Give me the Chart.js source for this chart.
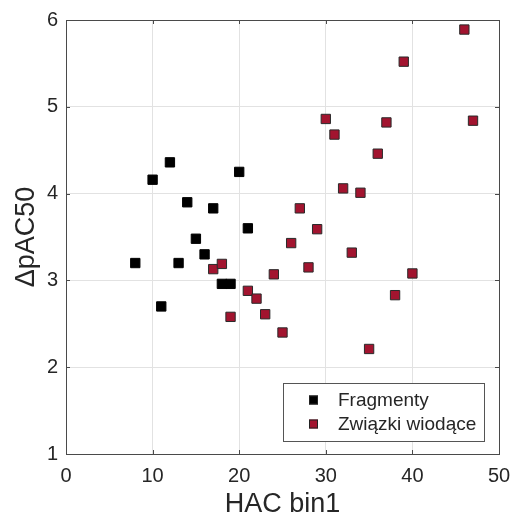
<!DOCTYPE html>
<html>
<head>
<meta charset="utf-8">
<script src="https://cdn.jsdelivr.net/npm/chart.js@4"></script>
<style>
  html, body { margin: 0; padding: 0; background: #fff; }
  #wrap { width: 513px; height: 523px; }
</style>
</head>
<body>
<div id="wrap"><canvas id="scatterChart" width="513" height="523"></canvas></div>
<script>
const seriesNames = ['Fragmenty', 'Związki wiodące'];

const fragX = [8, 10, 11, 12, 13, 14, 15, 16, 17, 18, 19, 20, 21];
const fragY = [3.20, 4.16, 2.70, 4.36, 3.20, 3.90, 3.48, 3.30, 3.83, 2.96, 2.96, 4.25, 3.60];

const leadX = [17, 18, 19, 21, 22, 23, 24, 25, 26, 27, 28, 29, 30, 31, 32, 33, 34, 35, 36, 37, 38, 39, 40, 46, 47];
const leadY = [3.13, 3.19, 2.58, 2.88, 2.79, 2.61, 3.07, 2.40, 3.43, 3.83, 3.15, 3.59, 4.86, 4.68, 4.06, 3.32, 4.01, 2.21, 4.46, 4.82, 2.83, 5.52, 3.08, 5.89, 4.84];

const xTicks = [0, 10, 20, 30, 40, 50];
const yTicks = [1, 2, 3, 4, 5, 6];

const fontName = "'Liberation Sans', Arial, sans-serif";
const axisColor = '#4a4a4a';

function toPoints(xs, ys) {
    return xs.map((x, i) => ({ x: x, y: ys[i] }));
}

// box round the plot, inward tick marks and the legend inside the axes
const boxPlugin = {
    id: 'boxPlugin',
    afterDraw(chart) {
        const ctx = chart.ctx;
        const a = chart.chartArea;
        const xs = chart.scales.x, ys = chart.scales.y;
        ctx.save();
        ctx.strokeStyle = axisColor;
        ctx.lineWidth = 1;
        ctx.beginPath();
        xTicks.forEach(v => {
            const px = Math.round(xs.getPixelForValue(v)) + 0.5;
            ctx.moveTo(px, a.bottom); ctx.lineTo(px, a.bottom - 4);
            ctx.moveTo(px, a.top); ctx.lineTo(px, a.top + 4);
        });
        yTicks.forEach(v => {
            const py = Math.round(ys.getPixelForValue(v)) + 0.5;
            ctx.moveTo(a.left, py); ctx.lineTo(a.left + 4, py);
            ctx.moveTo(a.right, py); ctx.lineTo(a.right - 4, py);
        });
        ctx.stroke();
        ctx.strokeRect(Math.round(a.left) + 0.5, Math.round(a.top) + 0.5,
                       Math.round(a.right - a.left), Math.round(a.bottom - a.top));

        // legend
        const lw = 201, lh = 58;
        const lx = a.right - 15 - lw, ly = a.bottom - 13 - lh;
        ctx.fillStyle = '#fff';
        ctx.fillRect(lx, ly, lw, lh);
        ctx.strokeStyle = '#555';
        ctx.strokeRect(Math.round(lx) + 0.5, Math.round(ly) + 0.5, lw, lh);
        ctx.font = '19px ' + fontName;
        ctx.textBaseline = 'middle';
        chart.data.datasets.forEach((ds, i) => {
            const cy = ly + 17 + i * 24;
            ctx.fillStyle = ds.backgroundColor;
            ctx.fillRect(lx + 26, cy - 4.5, 9, 9);
            ctx.strokeStyle = '#222';
            ctx.strokeRect(lx + 26.5, cy - 4, 8, 8);
            ctx.fillStyle = '#262626';
            ctx.fillText(ds.label, lx + 55, cy + 1);
        });
        ctx.restore();
    }
};

const chartConfig = {
    type: 'scatter',
    data: {
        datasets: [
            {
                label: seriesNames[0],
                data: toPoints(fragX, fragY),
                backgroundColor: '#000000',
                borderColor: '#000000',
                borderWidth: 1,
                pointStyle: 'rect',
                pointRadius: 6.6,
                pointHoverRadius: 6.6
            },
            {
                label: seriesNames[1],
                data: toPoints(leadX, leadY),
                backgroundColor: '#A2142F',
                borderColor: '#2a2a2a',
                borderWidth: 1,
                pointStyle: 'rect',
                pointRadius: 6.6,
                pointHoverRadius: 6.6
            }
        ]
    },
    options: {
        responsive: false,
        animation: false,
        layout: { padding: { top: 20, right: 14, left: 0, bottom: 0 } },
        plugins: {
            legend: { display: false },
            tooltip: { enabled: false }
        },
        scales: {
            x: {
                type: 'linear',
                min: 0,
                max: 50,
                afterFit: s => { s.height = 69; s.paddingRight = 0; s.paddingLeft = 0; },
                afterBuildTicks: s => { s.ticks = xTicks.map(v => ({ value: v })); },
                grid: { color: '#e2e2e2', drawTicks: false },
                border: { display: false },
                ticks: {
                    padding: 10,
                    color: '#262626',
                    font: { family: fontName, size: 20 }
                },
                title: {
                    display: true,
                    text: 'HAC bin1',
                    color: '#262626',
                    padding: { top: 0, bottom: 2 },
                    font: { family: fontName, size: 27 }
                }
            },
            y: {
                type: 'linear',
                min: 1,
                max: 6,
                afterFit: s => { s.width = 66; s.paddingTop = 0; s.paddingBottom = 0; },
                afterBuildTicks: s => { s.ticks = yTicks.map(v => ({ value: v })); },
                grid: { color: '#e2e2e2', drawTicks: false },
                border: { display: false },
                ticks: {
                    padding: 8,
                    color: '#262626',
                    font: { family: fontName, size: 20 }
                },
                title: {
                    display: true,
                    text: 'ΔpAC50',
                    color: '#262626',
                    padding: { top: 10, bottom: 0 },
                    font: { family: fontName, size: 27 }
                }
            }
        }
    },
    plugins: [boxPlugin]
};

let chartID = document.getElementById('scatterChart');
let chart = new Chart(chartID, chartConfig);
</script>
</body>
</html>
